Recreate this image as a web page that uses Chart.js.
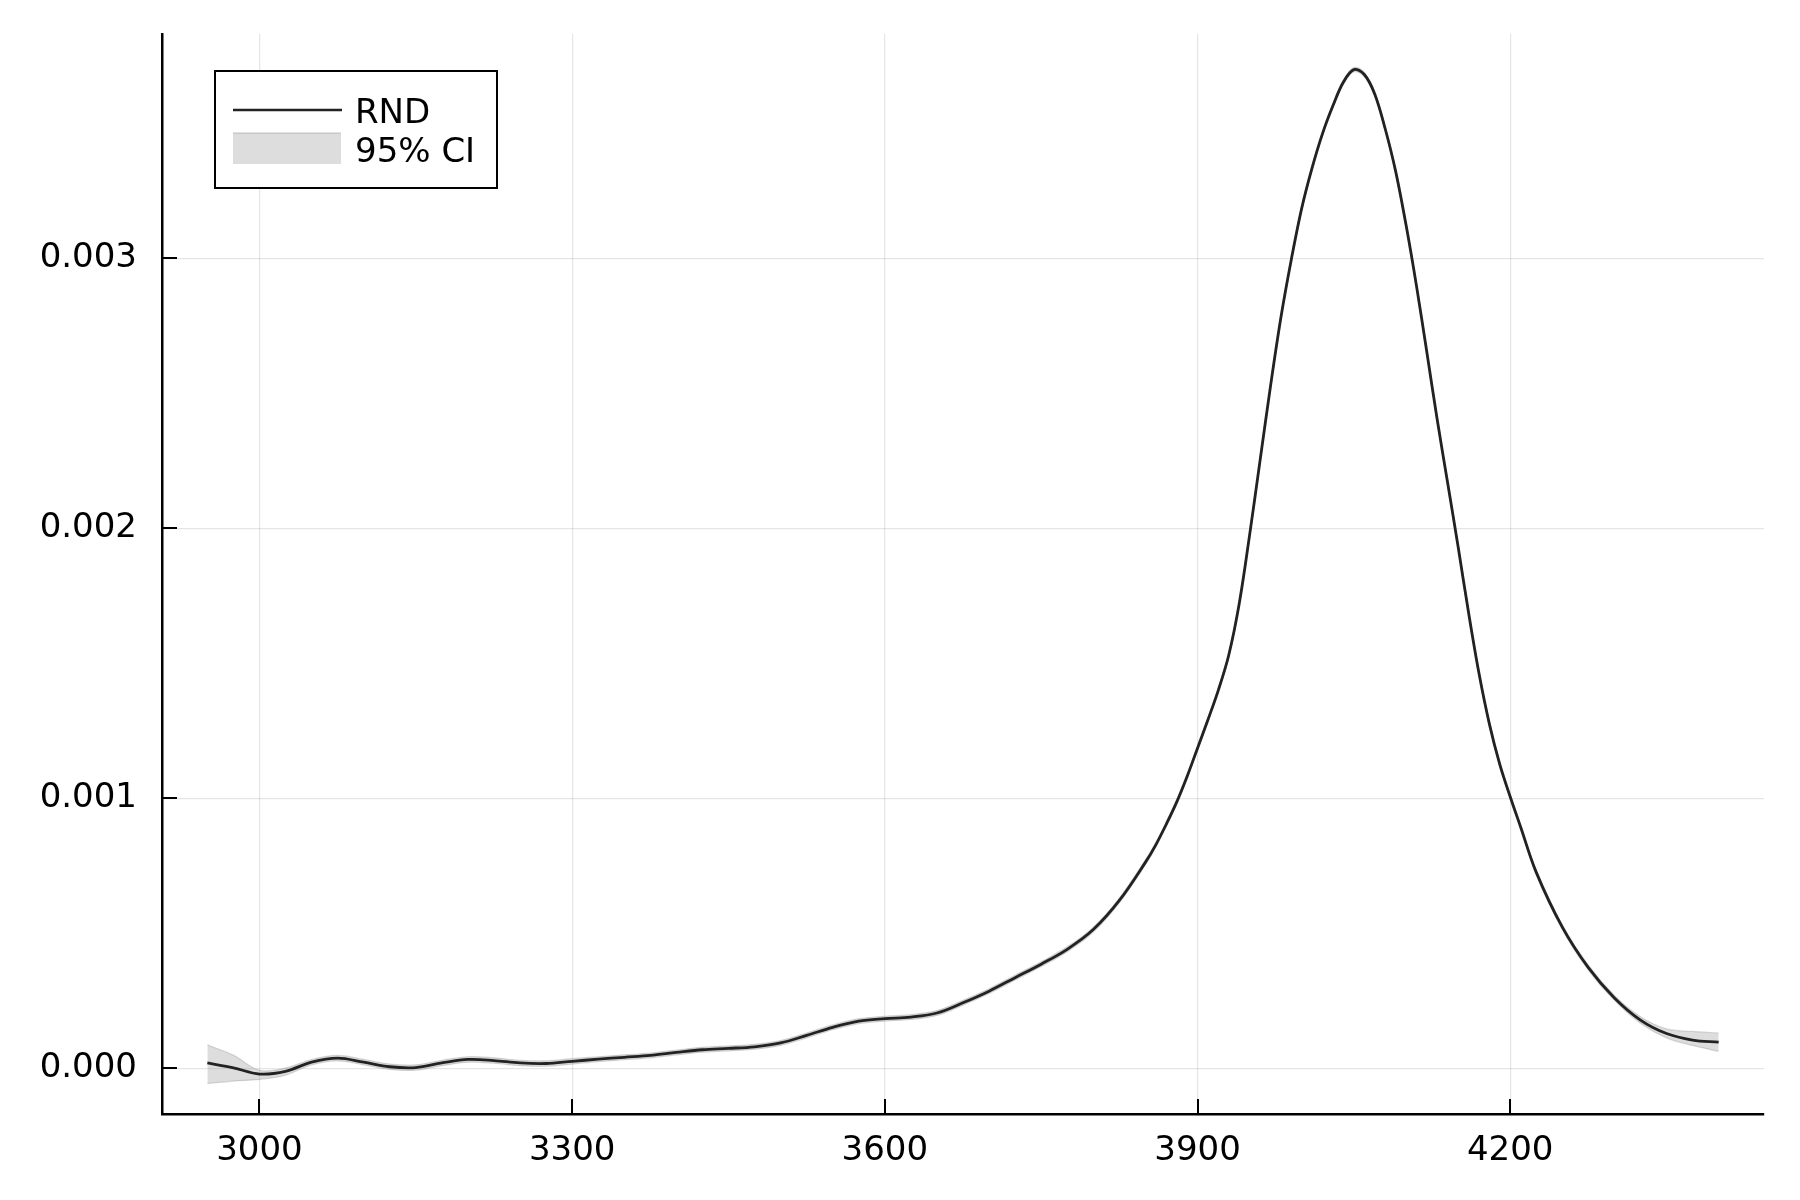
<!DOCTYPE html>
<html>
<head>
<meta charset="utf-8">
<title>RND</title>
<script src="https://cdn.jsdelivr.net/npm/chart.js@4.4.1/dist/chart.umd.min.js"></script>
<style>
  body { margin: 0; background: #ffffff; }
  canvas { display: block; }
</style>
</head>
<body>
<canvas id="rndChart" width="1800" height="1200"></canvas>
<script>
// strike grid (x) and density values
const strikes = [
    2950, 2975, 3000, 3025, 3050, 3075, 3100, 3125, 3150, 3175,
    3200, 3225, 3250, 3275, 3300, 3325, 3350, 3375, 3400, 3425,
    3450, 3475, 3500, 3525, 3550, 3575, 3600, 3625, 3650, 3675,
    3700, 3725, 3750, 3775, 3800, 3825, 3850,
    3860, 3870, 3880, 3890, 3900, 3910, 3920, 3930, 3940, 3950,
    3960, 3970, 3980, 3990, 4000, 4010, 4020, 4030, 4040, 4050,
    4060, 4070, 4080, 4090, 4100, 4110, 4120, 4130, 4140, 4150,
    4160, 4170, 4180, 4190, 4200, 4210,
    4225, 4250, 4275, 4300, 4325, 4350, 4375, 4400
];

const rnd = [
    0.000019, 0.000001, -0.000022, -0.000012, 0.000022, 0.000037, 0.000022, 0.000005, 0.000002, 0.000019,
    0.000032, 0.000028, 0.000019, 0.000017, 0.000025, 0.000033, 0.000040, 0.000047, 0.000058, 0.000068,
    0.000073, 0.000079, 0.000093, 0.000121, 0.000151, 0.000174, 0.000183, 0.000189, 0.000204, 0.000242,
    0.000285, 0.000335, 0.000385, 0.000440, 0.000513, 0.000621, 0.000762,
    0.000827, 0.000903, 0.000985, 0.001080, 0.001185, 0.001290, 0.001400, 0.001530, 0.001720, 0.001975,
    0.002250, 0.002525, 0.002780, 0.002995, 0.003185, 0.003335, 0.003462, 0.003565, 0.003652, 0.003698,
    0.003680, 0.003608, 0.003480, 0.003323, 0.003124, 0.002899, 0.002652, 0.002401, 0.002167, 0.001932,
    0.001688, 0.001463, 0.001275, 0.001125, 0.001005, 0.000893,
    0.000725, 0.000522, 0.000372, 0.000260, 0.000178, 0.000128, 0.000104, 0.000096
];

const ciUpper = [
    0.000086, 0.000048, -0.000008, 0.000000, 0.000032, 0.000047, 0.000032, 0.000015, 0.000012, 0.000029,
    0.000042, 0.000038, 0.000029, 0.000027, 0.000035, 0.000042, 0.000049, 0.000056, 0.000067, 0.000077,
    0.000082, 0.000088, 0.000102, 0.000130, 0.000160, 0.000183, 0.000192, 0.000198, 0.000213, 0.000251,
    0.000294, 0.000344, 0.000394, 0.000449, 0.000522, 0.000630, 0.000771,
    0.000835, 0.000911, 0.000993, 0.001088, 0.001193, 0.001298, 0.001408, 0.001538, 0.001728, 0.001983,
    0.002258, 0.002533, 0.002788, 0.003003, 0.003193, 0.003343, 0.003470, 0.003573, 0.003660, 0.003706,
    0.003688, 0.003616, 0.003488, 0.003331, 0.003132, 0.002907, 0.002660, 0.002409, 0.002175, 0.001940,
    0.001696, 0.001471, 0.001283, 0.001133, 0.001013, 0.000901,
    0.000734, 0.000531, 0.000381, 0.000269, 0.000190, 0.000145, 0.000136, 0.000130
];

const ciLower = [
    -0.000057, -0.000048, -0.000042, -0.000026, 0.000012, 0.000027, 0.000012, -0.000005, -0.000008, 0.000009,
    0.000022, 0.000018, 0.000009, 0.000007, 0.000015, 0.000024, 0.000031, 0.000038, 0.000049, 0.000059,
    0.000064, 0.000070, 0.000084, 0.000112, 0.000142, 0.000165, 0.000174, 0.000180, 0.000195, 0.000233,
    0.000276, 0.000326, 0.000376, 0.000431, 0.000504, 0.000612, 0.000753,
    0.000819, 0.000895, 0.000977, 0.001072, 0.001177, 0.001282, 0.001392, 0.001522, 0.001712, 0.001967,
    0.002242, 0.002517, 0.002772, 0.002987, 0.003177, 0.003327, 0.003454, 0.003557, 0.003644, 0.003690,
    0.003672, 0.003600, 0.003472, 0.003315, 0.003116, 0.002891, 0.002644, 0.002393, 0.002159, 0.001924,
    0.001680, 0.001455, 0.001267, 0.001117, 0.000997, 0.000885,
    0.000716, 0.000513, 0.000363, 0.000251, 0.000166, 0.000112, 0.000084, 0.000062
];

const xTicks = [3000, 3300, 3600, 3900, 4200];
const yTicks = [0, 0.001, 0.002, 0.003];
const legendLabels = ['RND', '95% CI'];

const FONT = "'DejaVu Sans', sans-serif";
const LINE_COLOR = '#222222';
const BAND_COLOR = 'rgba(128,128,128,0.27)';
const BAND_EDGE = 'rgba(128,128,128,0.30)';

const toPoints = (ys) => strikes.map((x, i) => ({ x: x, y: ys[i] }));

// ticks point into the plot area, like the original
const innerTicks = {
    id: 'innerTicks',
    afterDatasetsDraw(chart) {
        const { ctx, chartArea, scales } = chart;
        ctx.save();
        ctx.strokeStyle = '#000000';
        ctx.lineWidth = 2;
        xTicks.forEach(v => {
            const px = Math.round(scales.x.getPixelForValue(v));
            ctx.beginPath();
            ctx.moveTo(px, chartArea.bottom);
            ctx.lineTo(px, chartArea.bottom - 15);
            ctx.stroke();
        });
        yTicks.forEach(v => {
            const py = Math.round(scales.y.getPixelForValue(v));
            ctx.beginPath();
            ctx.moveTo(chartArea.left, py);
            ctx.lineTo(chartArea.left + 15, py);
            ctx.stroke();
        });
        ctx.restore();
    }
};

// boxed legend in the upper left
const boxLegend = {
    id: 'boxLegend',
    afterDraw(chart) {
        const ctx = chart.ctx;
        ctx.save();
        ctx.fillStyle = '#ffffff';
        ctx.fillRect(215, 71, 282, 117);
        ctx.strokeStyle = '#000000';
        ctx.lineWidth = 2;
        ctx.strokeRect(215, 71, 282, 117);

        ctx.strokeStyle = LINE_COLOR;
        ctx.lineWidth = 2.6;
        ctx.beginPath();
        ctx.moveTo(233, 110);
        ctx.lineTo(342, 110);
        ctx.stroke();

        ctx.fillStyle = BAND_COLOR;
        ctx.fillRect(233, 133, 108, 31);
        ctx.strokeStyle = BAND_EDGE;
        ctx.lineWidth = 1.5;
        ctx.beginPath();
        ctx.moveTo(233, 133);
        ctx.lineTo(341, 133);
        ctx.stroke();

        ctx.fillStyle = '#000000';
        ctx.font = '34px ' + FONT;
        ctx.textAlign = 'left';
        ctx.textBaseline = 'alphabetic';
        ctx.fillText(legendLabels[0], 355, 123);
        ctx.fillText(legendLabels[1], 355, 162);
        ctx.restore();
    }
};

const ctx = document.getElementById('rndChart').getContext('2d');
new Chart(ctx, {
    type: 'line',
    data: {
        datasets: [
            {
                label: legendLabels[0],
                data: toPoints(rnd),
                borderColor: LINE_COLOR,
                borderWidth: 2.8,
                pointRadius: 0,
                tension: 0.35,
                fill: false
            },
            {
                label: legendLabels[1],
                data: toPoints(ciUpper),
                borderColor: BAND_EDGE,
                borderWidth: 1.2,
                backgroundColor: BAND_COLOR,
                pointRadius: 0,
                tension: 0.35,
                fill: '+1'
            },
            {
                label: 'lower',
                data: toPoints(ciLower),
                borderColor: BAND_EDGE,
                borderWidth: 1.2,
                pointRadius: 0,
                tension: 0.35,
                fill: false
            }
        ]
    },
    options: {
        responsive: false,
        animation: false,
        devicePixelRatio: 1,
        layout: { padding: { top: 34, right: 36, left: 0, bottom: 0 } },
        plugins: {
            legend: { display: false },
            tooltip: { enabled: false }
        },
        scales: {
            x: {
                type: 'linear',
                min: 2906.5,
                max: 4443.5,
                afterBuildTicks: (scale) => { scale.ticks = xTicks.map(v => ({ value: v })); },
                afterFit: (scale) => {
                    scale.height = 86;
                    scale.paddingLeft = 0;
                    scale.paddingRight = 0;
                },
                grid: { color: 'rgba(0,0,0,0.1)', lineWidth: 1.2, drawTicks: false },
                border: { display: true, color: '#000000', width: 2.5 },
                ticks: {
                    padding: 17,
                    color: '#000000',
                    font: { family: FONT, size: 34 },
                    maxRotation: 0,
                    callback: (v) => String(v)
                }
            },
            y: {
                type: 'linear',
                min: -0.00017,
                max: 0.00383,
                afterBuildTicks: (scale) => { scale.ticks = yTicks.map(v => ({ value: v })); },
                afterFit: (scale) => {
                    scale.width = 162;
                    scale.paddingTop = 0;
                    scale.paddingBottom = 0;
                },
                grid: { color: 'rgba(0,0,0,0.1)', lineWidth: 1.2, drawTicks: false },
                border: { display: true, color: '#000000', width: 2.5 },
                ticks: {
                    padding: 25,
                    color: '#000000',
                    font: { family: FONT, size: 34 },
                    callback: (v) => v.toFixed(3)
                }
            }
        }
    },
    plugins: [innerTicks, boxLegend]
});
</script>
</body>
</html>
